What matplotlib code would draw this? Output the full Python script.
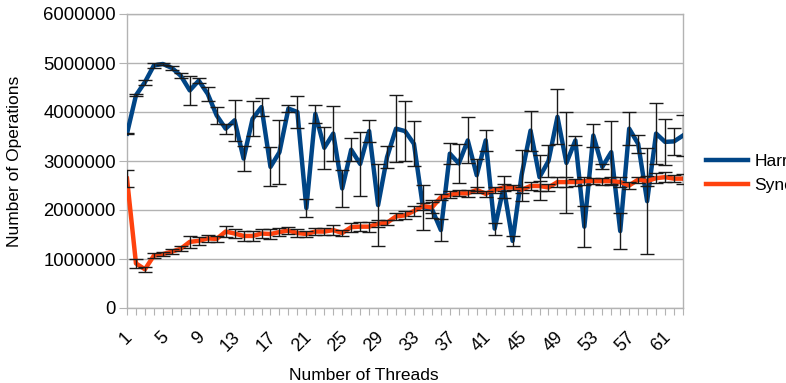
import numpy as np
import matplotlib
matplotlib.use("Agg")
import matplotlib.pyplot as plt
import matplotlib.transforms as mtransforms

plt.rcParams['font.family'] = ['Liberation Sans', 'DejaVu Sans']

# data (values in millions of operations)
threads = list(range(1, 64))

harris = [3.56, 4.34, 4.61, 4.95, 4.98, 4.90, 4.74, 4.44, 4.64, 4.37,
          3.93, 3.66, 3.83, 3.05, 3.86, 4.10, 2.88, 3.18, 4.07, 4.00,
          2.04, 3.96, 3.27, 3.56, 2.44, 3.23, 2.94, 3.61, 2.10, 3.08,
          3.66, 3.61, 3.35, 2.06, 2.02, 1.59, 3.15, 2.95, 3.42, 2.71,
          3.42, 1.62, 2.47, 1.37, 2.71, 3.62, 2.67, 3.00, 3.90, 2.96,
          3.42, 1.66, 3.52, 2.88, 3.18, 1.57, 3.66, 3.35, 2.18, 3.56,
          3.39, 3.40, 3.52]
harris_err = [0.01, 0.02, 0.05, 0.05, 0.03, 0.04, 0.05, 0.29, 0.05, 0.15,
              0.18, 0.10, 0.42, 0.25, 0.36, 0.18, 0.40, 0.65, 0.08, 0.32,
              0.19, 0.18, 0.43, 0.56, 0.37, 0.24, 0.65, 0.23, 0.83, 0.23,
              0.68, 0.61, 0.46, 0.46, 0.19, 0.22, 0.22, 0.39, 0.47, 0.33,
              0.22, 0.12, 0.23, 0.10, 0.52, 0.41, 0.46, 0.33, 0.56, 1.03,
              0.09, 0.42, 0.23, 0.05, 0.64, 0.36, 0.33, 0.18, 1.08, 0.62,
              0.47, 0.28, 0.42]

synced = [2.64, 0.91, 0.79, 1.07, 1.10, 1.15, 1.21, 1.35, 1.37, 1.42,
          1.41, 1.56, 1.52, 1.47, 1.47, 1.52, 1.51, 1.55, 1.58, 1.53,
          1.51, 1.56, 1.56, 1.59, 1.53, 1.65, 1.66, 1.66, 1.72, 1.74,
          1.87, 1.89, 1.98, 2.08, 2.05, 2.26, 2.31, 2.34, 2.34, 2.41,
          2.33, 2.41, 2.46, 2.46, 2.41, 2.49, 2.49, 2.46, 2.57, 2.57,
          2.57, 2.59, 2.59, 2.59, 2.59, 2.57, 2.50, 2.62, 2.59, 2.65,
          2.67, 2.64, 2.64]
synced_err = [0.17, 0.09, 0.05, 0.05, 0.04, 0.05, 0.05, 0.12, 0.08, 0.07,
              0.06, 0.12, 0.10, 0.10, 0.10, 0.10, 0.10, 0.08, 0.07, 0.08,
              0.07, 0.07, 0.08, 0.10, 0.07, 0.09, 0.09, 0.10, 0.07, 0.05,
              0.07, 0.08, 0.10, 0.07, 0.12, 0.06, 0.07, 0.06, 0.07, 0.06,
              0.06, 0.06, 0.07, 0.06, 0.06, 0.08, 0.10, 0.07, 0.10, 0.10,
              0.07, 0.08, 0.06, 0.07, 0.08, 0.10, 0.08, 0.06, 0.10, 0.10,
              0.10, 0.07, 0.10]

series = [("Harris", harris, harris_err, "#004586"),
          ("Synchronized", synced, synced_err, "#ff420e")]

fig = plt.figure(figsize=(7.86, 3.83), dpi=100)
ax = fig.add_axes([127 / 786, 1 - 308 / 383, 556 / 786, 294 / 383])

x = np.arange(len(threads))
for name, vals, err, color in series:
    v = np.array(vals) * 1e6
    e = np.array(err) * 1e6
    ax.plot(x, v, color=color, lw=3.2, label=name, zorder=3,
            solid_joinstyle='round')
    ax.errorbar(x, v, yerr=e, fmt='none', ecolor='#1a1a1a', elinewidth=1,
                capsize=5, capthick=1, zorder=4)

ax.set_xlim(0, len(threads) - 1)
ax.set_ylim(0, 6000000)
ax.set_yticks(np.arange(0, 6000001, 1000000))
ax.set_yticklabels([str(int(t)) for t in np.arange(0, 6000001, 1000000)])
ax.set_xticks(x)
ax.set_xticklabels([str(t) if (t - 1) % 4 == 0 else "" for t in threads],
                   rotation=45, ha='right', rotation_mode='anchor')
ax.tick_params(axis='x', length=5, color='#b3b3b3', labelsize=13, pad=10)
ax.tick_params(axis='y', length=6, color='#b3b3b3', labelsize=13.3, pad=2)

# nudge rotated labels a little to the left
shift = mtransforms.ScaledTranslation(-3 / 100, 0, fig.dpi_scale_trans)
for lab in ax.get_xticklabels():
    lab.set_transform(lab.get_transform() + shift)

ax.grid(axis='y', color='#b3b3b3', lw=1)
ax.set_axisbelow(True)
for s in ax.spines.values():
    s.set_color('#b3b3b3')
    s.set_linewidth(1)

ax.set_xlabel("Number of Threads", fontsize=12.5, va='center')
ax.xaxis.set_label_coords((364 - 127) / 556, (308 - 375) / 294)
ax.set_ylabel("Number of Operations", fontsize=12.5, va='center')
ax.yaxis.set_label_coords((15 - 127) / 556, 0.5)

fig.legend(loc='center left', bbox_to_anchor=(706 / 786, 1 - 173.5 / 383),
           frameon=False, fontsize=12.5, handlelength=2.4, handletextpad=0.4,
           labelspacing=0.55, borderpad=0, borderaxespad=0)

fig.savefig("out.png", dpi=100)
